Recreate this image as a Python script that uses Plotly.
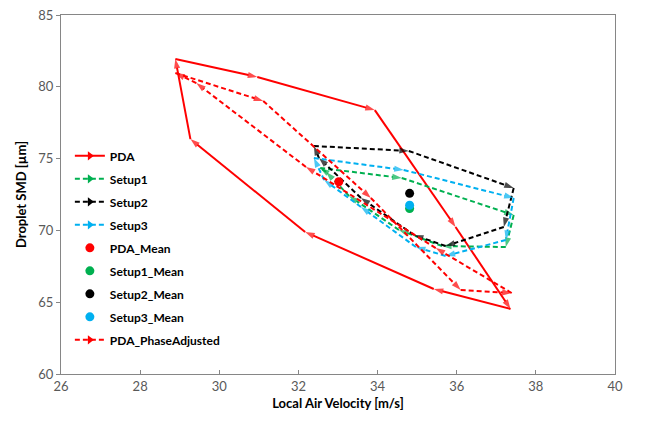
import plotly.graph_objects as go

# ---- data ----
pda_x = [28.89, 30.96, 33.93, 35.97, 37.36, 35.42, 32.17, 29.27, 28.89]
pda_y = [81.94, 80.68, 78.38, 70.24, 64.53, 65.92, 69.89, 76.36, 81.94]

setup1_x = [32.55, 34.61, 37.44, 37.24, 35.63, 34.54, 33.28, 32.70, 32.55]
setup1_y = [74.35, 73.65, 71.07, 68.84, 68.91, 70.03, 72.40, 74.07, 74.35]

setup2_x = [32.39, 34.79, 37.44, 37.19, 35.72, 34.92, 33.58, 32.52, 32.39]
setup2_y = [75.88, 75.53, 72.95, 70.24, 68.91, 69.68, 72.26, 75.04, 75.88]

setup3_x = [32.39, 34.66, 37.44, 37.24, 35.72, 34.97, 33.58, 32.65, 32.39]
setup3_y = [75.04, 74.21, 72.26, 69.33, 68.22, 68.84, 71.63, 73.51, 75.04]

pda_pa_x = [28.89, 31.11, 33.83, 36.10, 37.39, 35.47, 32.19, 29.42, 28.89]
pda_pa_y = [80.96, 79.01, 72.26, 65.85, 65.64, 68.77, 74.42, 80.26, 80.96]

mean_names = ["PDA_Mean", "Setup1_Mean", "Setup2_Mean", "Setup3_Mean"]
mean_x = [33.02, 34.81, 34.81, 34.81]
mean_y = [73.39, 71.52, 72.58, 71.75]

x_ticks = [26, 28, 30, 32, 34, 36, 38, 40]
y_ticks = [60, 65, 70, 75, 80, 85]

RED = "#FF0000"
GREEN = "#00B050"
BLACK = "#000000"
CYAN = "#00B0F0"
FONT = "Lato"

fig = go.Figure()


def loop_trace(xs, ys, color, dash):
    sizes = [0] + [10] * (len(xs) - 1)
    return go.Scatter(
        x=xs, y=ys, mode="lines+markers",
        line=dict(color=color, width=2, dash=dash),
        marker=dict(symbol="arrow", angleref="previous", size=sizes, color=color,
                    line=dict(width=0)),
        showlegend=False, hoverinfo="skip")


def legend_line(name, color, dash):
    return go.Scatter(
        x=[None], y=[None], mode="lines+markers", name=name, legendgroup=name,
        line=dict(color=color, width=2, dash=dash),
        marker=dict(symbol="triangle-right", size=8, color=color))


series = [
    ("PDA", pda_x, pda_y, RED, "solid"),
    ("Setup1", setup1_x, setup1_y, GREEN, "5px,3px"),
    ("Setup2", setup2_x, setup2_y, BLACK, "5px,3px"),
    ("Setup3", setup3_x, setup3_y, CYAN, "5px,3px"),
]
for name, xs, ys, c, d in series:
    fig.add_trace(loop_trace(xs, ys, c, d))
    fig.add_trace(legend_line(name, c, d))

mean_colors = [RED, GREEN, BLACK, CYAN]
for i, name in enumerate(mean_names):
    fig.add_trace(go.Scatter(
        x=[mean_x[i]], y=[mean_y[i]], mode="markers", name=name, legendgroup=name,
        marker=dict(symbol="circle", size=9, color=mean_colors[i])))

fig.add_trace(loop_trace(pda_pa_x, pda_pa_y, RED, "5px,3px"))
fig.add_trace(legend_line("PDA_PhaseAdjusted", RED, "5px,3px"))

axis_common = dict(
    showline=True, linecolor="#868686", linewidth=1, mirror=True,
    showgrid=False, zeroline=False, automargin=False,
    tickfont=dict(family=FONT, size=13, color="#595959"),
    tickcolor="#868686", ticklen=4, ticklabeloverflow="allow",
)

fig.update_layout(
    width=644, height=420,
    margin=dict(l=53, r=37, t=7, b=54),
    paper_bgcolor="white", plot_bgcolor="white",
    font=dict(family=FONT, size=12, color="black"),
    xaxis=dict(range=[26, 40], tickvals=x_ticks, ticks="inside",
               title=dict(text="<b>Local Air Velocity [m/s]</b>",
                          font=dict(family=FONT, size=13, color="black"), standoff=6),
               **axis_common),
    yaxis=dict(range=[60, 85], tickvals=y_ticks, ticks="outside",
               title=dict(text="<b>Droplet SMD [µm]</b>",
                          font=dict(family=FONT, size=13, color="black"), standoff=8),
               **axis_common),
    legend=dict(x=0.016, y=0.648, xanchor="left", yanchor="top",
                bgcolor="rgba(0,0,0,0)", traceorder="grouped", tracegroupgap=4,
                font=dict(family=FONT, size=12, color="black"),
                itemwidth=30),
)

# bold legend text
for tr in fig.data:
    if tr.name:
        tr.name = "<b>" + tr.name + "</b>"

fig.write_html("out.html")
